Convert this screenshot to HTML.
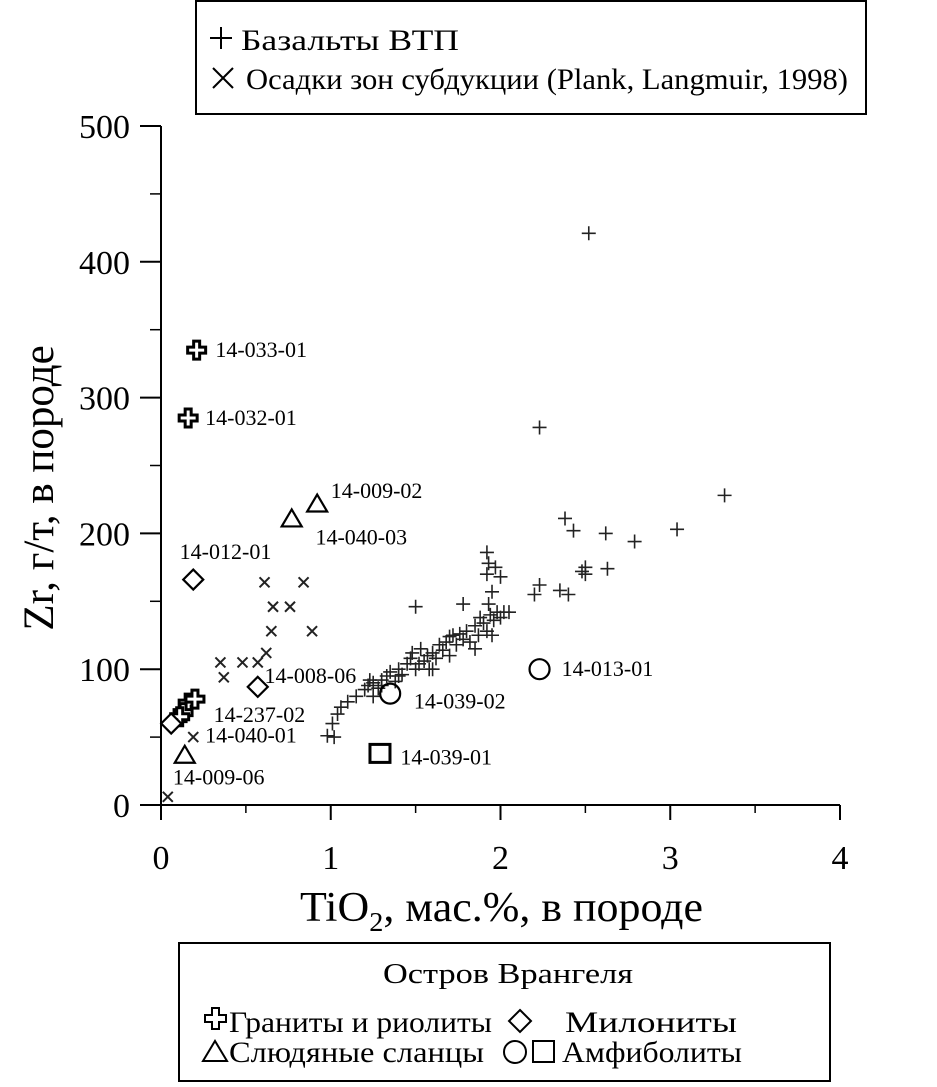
<!DOCTYPE html>
<html><head><meta charset="utf-8"><style>
html,body{margin:0;padding:0;background:#fff;}
svg{display:block;font-family:"Liberation Serif",serif;}
</style></head><body>
<svg id="chart" width="937" height="1087" viewBox="0 0 937 1087">
<g id="axes"></g><g id="marks"></g><g id="labels"></g>
<g>
<rect x="196" y="1" width="670" height="113" fill="#fff" stroke="#000" stroke-width="2"/>
<g stroke="#000" stroke-width="2"><line x1="210" y1="38" x2="232" y2="38"/><line x1="221" y1="27" x2="221" y2="49"/>
<line x1="213" y1="68" x2="233" y2="88"/><line x1="233" y1="68" x2="213" y2="88"/></g>
<text x="241" y="50" font-size="30" textLength="218" lengthAdjust="spacingAndGlyphs">Базальты ВТП</text>
<text x="246" y="89" font-size="30" textLength="602" lengthAdjust="spacingAndGlyphs">Осадки зон субдукции (Plank, Langmuir, 1998)</text>
</g>
<g>
<rect x="179" y="943" width="651" height="138" fill="#fff" stroke="#000" stroke-width="2"/>
<text x="383" y="983" font-size="29" textLength="250" lengthAdjust="spacingAndGlyphs">Остров Врангеля</text>
<path d="M205 1015h7v-7h7v7h7v7h-7v7h-7v-7h-7z" fill="none" stroke="#000" stroke-width="2"/>
<text x="229" y="1032" font-size="30" textLength="263" lengthAdjust="spacingAndGlyphs">Граниты и риолиты</text>
<path d="M520 1010l11 11-11 11-11-11z" fill="none" stroke="#000" stroke-width="2"/>
<text x="565" y="1032" font-size="30" textLength="172" lengthAdjust="spacingAndGlyphs">Милониты</text>
<path d="M203 1061l12-20 12 20z" fill="none" stroke="#000" stroke-width="2"/>
<text x="229" y="1062" font-size="30" textLength="255" lengthAdjust="spacingAndGlyphs">Слюдяные сланцы</text>
<circle cx="515" cy="1052" r="11" fill="none" stroke="#000" stroke-width="2"/>
<rect x="533" y="1041" width="21" height="21" fill="none" stroke="#000" stroke-width="2"/>
<text x="562" y="1062" font-size="30" textLength="180" lengthAdjust="spacingAndGlyphs">Амфиболиты</text>
</g>
</svg>
<script>
const xTicks=[0,1,2,3,4];
const yTicks=[0,100,200,300,400,500];
const basaltsTi=[0.98,1.02,1.01,1.04,1.06,1.1,1.15,1.2,1.22,1.23,1.25,1.28,1.3,1.33,1.35,1.38,1.4,1.42,1.45,1.47,1.48,1.5,1.52,1.53,1.55,1.57,1.58,1.6,1.62,1.64,1.66,1.68,1.7,1.72,1.74,1.76,1.78,1.8,1.82,1.85,1.87,1.88,1.9,1.92,1.94,1.96,1.98,2.0,2.02,2.05,1.93,1.95,1.92,1.93,1.92,1.97,2.0,1.78,1.5,1.3,1.25,1.4,1.6,1.7,1.85,1.95,2.2,2.23,2.35,2.4,2.48,2.5,2.5,2.38,2.43,2.62,2.79,2.63,3.04,3.32,2.23,2.52];
const basaltsZr=[51,50,60,67,72,76,80,85,88,92,90,86,92,95,98,91,100,96,104,108,112,100,104,115,106,110,100,112,108,118,114,120,110,125,118,126,122,128,120,132,125,138,134,128,140,136,142,138,142,142,148,157,170,178,186,175,168,148,146,88,80,95,100,124,115,125,155,162,158,155,172,175,170,211,202,200,194,174,203,228,278,421];
const sedTi=[0.61,0.84,0.66,0.76,0.65,0.89,0.62,0.35,0.48,0.57,0.37,0.19,0.04];
const sedZr=[164,164,146,146,128,128,112,105,105,105,94,50,6];
const granTi=[0.21,0.16,0.16,0.13,0.11,0.2];
const granZr=[335,285,75,68,65,78];
const diaTi=[0.19,0.57,0.06];
const diaZr=[166,87,60];
const triTi=[0.92,0.77,0.14];
const triZr=[222,211,37];
const circTi=[1.35,2.23];
const circZr=[82,100];
const sqTi=[1.29];
const sqZr=[38];
const labelText=["14-033-01","14-032-01","14-009-02","14-040-03","14-012-01","14-008-06","14-237-02","14-040-01","14-009-06","14-039-02","14-013-01","14-039-01"];
const labelTi=[0.32,0.26,1.0,0.91,0.11,0.61,0.31,0.26,0.07,1.49,2.36,1.41];
const labelZr=[330,280,226,192,181,90,61,46,15,71,95,30];
const NS="http://www.w3.org/2000/svg";
const X=v=>161+v*169.75, Y=v=>805-v*1.358;
function mk(p,tag,at){const e=document.createElementNS(NS,tag);for(const k in at)e.setAttribute(k,at[k]);p.appendChild(e);return e;}
const ax=document.getElementById('axes'),mg=document.getElementById('marks'),lg=document.getElementById('labels');
let e=mk(ax,'line',{x1:161,y1:805,x2:840,y2:805,stroke:'#000','stroke-width':2});

e=mk(ax,'line',{x1:161,y1:126,x2:161,y2:805,stroke:'#000','stroke-width':2});

xTicks.forEach(t=>{mk(ax,'line',{x1:X(t),y1:805,x2:X(t),y2:820,stroke:'#000','stroke-width':2});
 if(t<4)mk(ax,'line',{x1:X(t+0.5),y1:805,x2:X(t+0.5),y2:813,stroke:'#000','stroke-width':1.5});
 const l=mk(ax,'text',{x:X(t),y:869,'font-size':34,'text-anchor':'middle'});l.textContent=t;
 });
yTicks.forEach(t=>{mk(ax,'line',{x1:140,y1:Y(t),x2:161,y2:Y(t),stroke:'#000','stroke-width':2});
 if(t<500)mk(ax,'line',{x1:150,y1:Y(t+50),x2:161,y2:Y(t+50),stroke:'#000','stroke-width':1.5});
 const l=mk(ax,'text',{x:130,y:Y(t)+12,'font-size':34,'text-anchor':'end'});l.textContent=t;
 });
let tt=mk(ax,'text',{x:300,y:921,'font-size':42,textLength:403,lengthAdjust:'spacingAndGlyphs'});
tt.innerHTML='TiO<tspan font-size="27" dy="10">2</tspan><tspan dy="-10">, мас.%, в породе</tspan>';

tt=mk(ax,'text',{x:0,y:0,'font-size':43,'text-anchor':'middle',transform:'translate(53,488) rotate(-90)'});
tt.textContent='Zr, г/т, в породе';

basaltsTi.forEach((v,i)=>{const x=X(v),y=Y(basaltsZr[i]);
 const p=mk(mg,'path',{d:`M${x-7} ${y}h14M${x} ${y-7}v14`,stroke:'#222','stroke-width':1.6,fill:'none'});
 });
sedTi.forEach((v,i)=>{const x=X(v),y=Y(sedZr[i]);
 const p=mk(mg,'path',{d:`M${x-5} ${y-5}l10 10M${x+5} ${y-5}l-10 10`,stroke:'#222','stroke-width':2,fill:'none'});
 });
granTi.forEach((v,i)=>{const x=X(v),y=Y(granZr[i]);
 const p=mk(mg,'path',{d:`M${x-9} ${y-3}h6v-6h6v6h6v6h-6v6h-6v-6h-6z`,stroke:'#000','stroke-width':3,fill:'#fff'});
 });
diaTi.forEach((v,i)=>{const x=X(v),y=Y(diaZr[i]);
 const p=mk(mg,'path',{d:`M${x} ${y-10}l10 10-10 10-10-10z`,stroke:'#000','stroke-width':2.2,fill:'#fff'});
 });
triTi.forEach((v,i)=>{const x=X(v),y=Y(triZr[i]);
 const p=mk(mg,'path',{d:`M${x} ${y-9}l10 17h-20z`,stroke:'#000','stroke-width':2.2,fill:'#fff'});
 });
circTi.forEach((v,i)=>{const p=mk(mg,'circle',{cx:X(v),cy:Y(circZr[i]),r:10,stroke:'#000','stroke-width':2.2,fill:'none'});
 });
sqTi.forEach((v,i)=>{const p=mk(mg,'rect',{x:X(v)-10,y:Y(sqZr[i])-9,width:20,height:18,stroke:'#000','stroke-width':3,fill:'none'});
 });
labelText.forEach((s,i)=>{const l=mk(lg,'text',{x:X(labelTi[i]),y:Y(labelZr[i]),'font-size':22});l.textContent=s;
 });
</script>
</body></html>
